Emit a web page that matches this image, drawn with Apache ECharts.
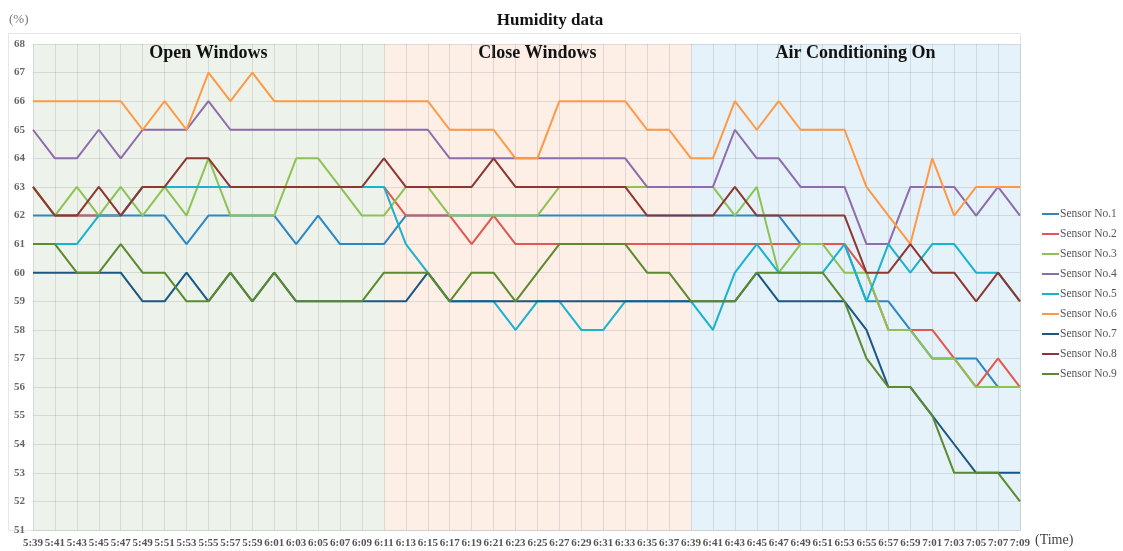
<!DOCTYPE html>
<html>
<head>
<meta charset="utf-8">
<script src="https://cdn.jsdelivr.net/npm/echarts@6/dist/echarts.min.js"></script>
<style>html,body{margin:0;padding:0;background:#fff;}#c{width:1123px;height:551px;}</style>
</head>
<body>
<div id="c"></div>
<script>
const times = ['5:39','5:41','5:43','5:45','5:47','5:49','5:51','5:53','5:55','5:57','5:59','6:01','6:03','6:05','6:07','6:09','6:11','6:13','6:15','6:17','6:19','6:21','6:23','6:25','6:27','6:29','6:31','6:33','6:35','6:37','6:39','6:41','6:43','6:45','6:47','6:49','6:51','6:53','6:55','6:57','6:59','7:01','7:03','7:05','7:07','7:09'];
const sensorNames = ['Sensor No.1','Sensor No.2','Sensor No.3','Sensor No.4','Sensor No.5','Sensor No.6','Sensor No.7','Sensor No.8','Sensor No.9'];
const sensor1 = [62,62,62,62,62,62,62,61,62,62,62,62,61,62,61,61,61,62,62,62,62,62,62,62,62,62,62,62,62,62,62,62,62,62,62,61,61,61,59,59,58,57,57,57,56,56];
const sensor2 = [63,62,62,62,62,63,63,63,63,63,63,63,63,63,63,63,63,62,62,62,61,62,61,61,61,61,61,61,61,61,61,61,61,61,61,61,61,61,60,58,58,58,57,56,57,56];
const sensor3 = [63,62,63,62,63,62,63,62,64,62,62,62,64,64,63,62,62,63,63,62,62,62,62,62,63,63,63,63,63,63,63,63,62,63,60,61,61,60,60,58,58,57,57,56,56,56];
const sensor4 = [65,64,64,65,64,65,65,65,66,65,65,65,65,65,65,65,65,65,65,64,64,64,64,64,64,64,64,64,63,63,63,63,65,64,64,63,63,63,61,61,63,63,63,62,63,62];
const sensor5 = [61,61,61,62,62,63,63,63,63,63,63,63,63,63,63,63,63,61,60,59,59,59,58,59,59,58,58,59,59,59,59,58,60,61,60,60,60,61,59,61,60,61,61,60,60,59];
const sensor6 = [66,66,66,66,66,65,66,65,67,66,67,66,66,66,66,66,66,66,66,65,65,65,64,64,66,66,66,66,65,65,64,64,66,65,66,65,65,65,63,62,61,64,62,63,63,63];
const sensor7 = [60,60,60,60,60,59,59,60,59,60,59,60,59,59,59,59,59,59,60,59,59,59,59,59,59,59,59,59,59,59,59,59,59,60,59,59,59,59,58,56,56,55,54,53,53,53];
const sensor8 = [63,62,62,63,62,63,63,64,64,63,63,63,63,63,63,63,64,63,63,63,63,64,63,63,63,63,63,63,62,62,62,62,63,62,62,62,62,62,60,60,61,60,60,59,60,59];
const sensor9 = [61,61,60,60,61,60,60,59,59,60,59,60,59,59,59,59,60,60,60,59,60,60,59,60,61,61,61,61,60,60,59,59,59,60,60,60,60,59,57,56,56,55,53,53,53,52];
const phaseNames = ['Open Windows','Close Windows','Air Conditioning On'];
const phaseStart = ['5:39','6:11','6:39'];
const phaseEnd = ['6:11','6:39','7:09'];

const colors = ['#2D87C3','#E2574F','#8DC255','#8E6CAC','#1AB3CD','#FF9945','#1B5784','#8D3731','#5C8A2E'];
const phaseColors = ['#EDF3EA','#FDEEE6','#E6F2F9'];
const values = [sensor1,sensor2,sensor3,sensor4,sensor5,sensor6,sensor7,sensor8,sensor9];
const serif = '"Liberation Serif", "DejaVu Serif", serif';
const gridColor = 'rgba(120,135,135,0.22)';

const series = values.map((d,k)=>({
  name: sensorNames[k], type:'line', data:d, symbol:'none', z:3,
  lineStyle:{width:2, color:colors[k]}, itemStyle:{color:colors[k]}
}));
series.unshift({
  name:'phases', type:'line', data:[], z:0, zlevel:0, silent:true,
  markArea:{
    silent:true,
    data: phaseNames.map((n,i)=>[
      {name:n, xAxis:phaseStart[i], itemStyle:{color:phaseColors[i]},
       label:{show:true, position:'insideTop', distance:0, fontFamily:serif, fontWeight:'bold', fontSize:18, color:'#111'}},
      {xAxis:phaseEnd[i]}
    ])
  }
});

const chart = echarts.init(document.getElementById('c'), null, {renderer:'canvas'});
chart.setOption({
  animation:false,
  backgroundColor:'#fff',
  title:{text:'Humidity data', left:545, textAlign:'center', top:7,
    textStyle:{fontFamily:serif, fontWeight:'bold', fontSize:17, color:'#111'}},
  graphic:[
    {type:'rect', shape:{x:8.5,y:33.5,width:1012,height:497}, style:{fill:'none', stroke:'#e6e6e6', lineWidth:1}, z:-1},
    {type:'text', left:9, top:13, style:{text:'(%)', font:'13px '+serif, fill:'#777'}},
    {type:'text', left:1035, top:533, style:{text:'(Time)', font:'14px '+serif, fill:'#444'}}
  ],
  legend:{
    data:sensorNames, orient:'vertical', left:1037, top:203, icon:'rect', itemWidth:17, itemHeight:2, itemGap:8,
    textStyle:{fontFamily:serif, fontSize:11.5, color:'#555', padding:[0,0,0,-4]}
  },
  grid:{left:33, right:103, top:44, bottom:21, containLabel:false, z:5},
  xAxis:{
    type:'category', data:times, boundaryGap:false, z:2,
    axisLine:{lineStyle:{color:'#cfcfcf'}}, axisTick:{show:false},
    axisLabel:{interval:0, fontFamily:serif, fontSize:11, color:'#555', fontWeight:'bold', margin:8},
    splitLine:{show:true, interval:0, lineStyle:{color:gridColor, width:1}}
  },
  yAxis:{
    type:'value', min:51, max:68, interval:1, z:2,
    axisLine:{show:false}, axisTick:{show:false},
    axisLabel:{fontFamily:serif, fontSize:11, color:'#666', fontWeight:'bold', margin:8},
    splitLine:{show:true, lineStyle:{color:gridColor, width:1}}
  },
  series: series
});
</script>
</body>
</html>
